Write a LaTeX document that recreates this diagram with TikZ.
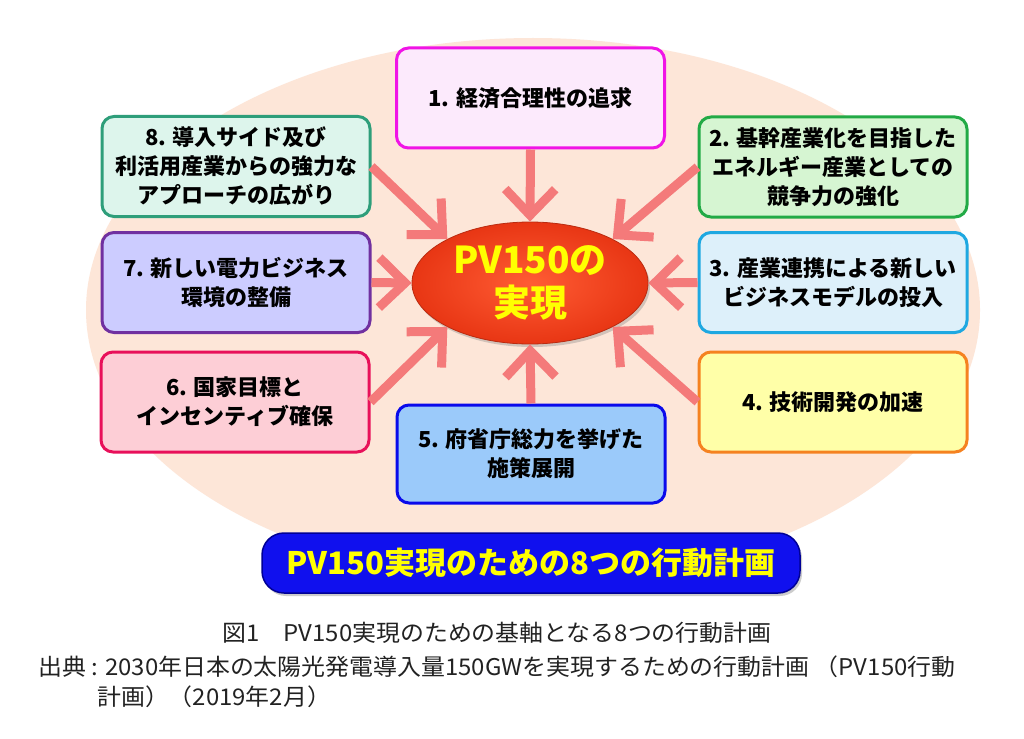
\documentclass[tikz,border=0pt]{standalone}
\usepackage{fontspec}
\newfontfamily\jp{Noto Sans CJK JP}
\newfontfamily\jpc{Noto Sans CJK JP}[FakeStretch=1.04]
\usetikzlibrary{arrows.meta,shadows,shapes.geometric}
\definecolor{peach}{RGB}{253,230,216}
\definecolor{arrowc}{RGB}{244,122,122}
\definecolor{c1d}{RGB}{240,20,230}\definecolor{c1f}{RGB}{252,234,252}
\definecolor{c2d}{RGB}{34,170,70}\definecolor{c2f}{RGB}{214,245,210}
\definecolor{c3d}{RGB}{30,168,225}\definecolor{c3f}{RGB}{221,240,250}
\definecolor{c4d}{RGB}{245,130,32}\definecolor{c4f}{RGB}{255,255,168}
\definecolor{c5d}{RGB}{10,10,235}\definecolor{c5f}{RGB}{155,202,250}
\definecolor{c6d}{RGB}{232,16,90}\definecolor{c6f}{RGB}{253,206,214}
\definecolor{c7d}{RGB}{112,48,160}\definecolor{c7f}{RGB}{204,204,255}
\definecolor{c8d}{RGB}{46,158,122}\definecolor{c8f}{RGB}{221,245,236}
\definecolor{redin}{RGB}{255,92,52}\definecolor{redout}{RGB}{232,54,20}
\definecolor{bannerf}{RGB}{16,16,238}\definecolor{bannerd}{RGB}{0,0,150}
\definecolor{captc}{RGB}{34,34,34}
\tikzset{
  card/.style={rounded corners=12pt, line width=3pt, minimum width=268pt,
    minimum height=100pt, align=center, inner sep=2pt,
    font=\jp\bfseries\fontsize{22}{29}\selectfont, text=black},
  goal/.style={ellipse, minimum width=236pt, minimum height=122pt, inner sep=0pt,
    shading=radial, inner color=redin, outer color=redout, draw=redout!80!black,
    line width=0.8pt, align=center, text={rgb,255:red,255;green,255;blue,0},
    font=\jp\bfseries\fontsize{37}{43}\selectfont,
    drop shadow={opacity=0.35, shadow xshift=2pt, shadow yshift=-3pt}},
  banner/.style={rounded corners=22pt, fill=bannerf, draw=bannerd, line width=1.5pt,
    minimum width=538pt, minimum height=60pt,
    text={rgb,255:red,255;green,255;blue,0},
    font=\jp\bfseries\fontsize{31}{36}\selectfont,
    drop shadow={opacity=0.4, shadow xshift=2pt, shadow yshift=-3pt}},
  feed/.style={draw=arrowc, line width=9pt,
    -{Straight Barb[length=26pt,width=50pt]}},
  capt/.style={text=captc, inner sep=0pt, font=\jpc\fontsize{23}{30}\selectfont}
}
\begin{document}
\begin{tikzpicture}[x=1pt,y=-1pt]
\useasboundingbox[fill=white] (0,0) rectangle (1024,738);
\fill[peach] (533,310) ellipse [x radius=447, y radius=272];

\node[goal] (c) at (530,283) {PV150の\\実現};

\node[card, draw=c1d, fill=c1f] (b1) at (530.5,98) {1. 経済合理性の追求};
\node[card, draw=c2d, fill=c2f] (b2) at (833,167) {2. 基幹産業化を目指した\\エネルギー産業としての\\競争力の強化};
\node[card, draw=c3d, fill=c3f] (b3) at (833,282.5) {3. 産業連携による新しい\\ビジネスモデルの投入};
\node[card, draw=c4d, fill=c4f] (b4) at (833,402) {4. 技術開発の加速};
\node[card, draw=c5d, fill=c5f, minimum height=98pt] (b5) at (531,454) {5. 府省庁総力を挙げた\\施策展開};
\node[card, draw=c6d, fill=c6f] (b6) at (235,402) {6. 国家目標と\\インセンティブ確保};
\node[card, draw=c7d, fill=c7f] (b7) at (236,282.5) {7. 新しい電力ビジネス\\環境の整備};
\node[card, draw=c8d, fill=c8f] (b8) at (236,166.5) {8. 導入サイド及び\\利活用産業からの強力な\\アプローチの広がり};

\draw[feed] (b1.south) -- (c.north);
\draw[feed] (b2.west) -- (c.28);
\draw[feed] (b3.west) -- (c.east);
\draw[feed] (b4.west) -- (c.-28);
\draw[feed] (b5.north) -- (c.south);
\draw[feed] (b6.east) -- (c.208);
\draw[feed] (b7.east) -- (c.west);
\draw[feed] (b8.east) -- (c.152);

\node[banner] (ban) at (531,563) {PV150実現のための8つの行動計画};

\node[capt] (cap1) at (497,633) {図1　PV150実現のための基軸となる8つの行動計画};
\node[capt, anchor=west] (cap2) at (38,667) {出典 : 2030年日本の太陽光発電導入量150GWを実現するための行動計画 （PV150行動};
\node[capt, anchor=west] (cap3) at (97,697) {計画）（2019年2月）};
\end{tikzpicture}
\end{document}
